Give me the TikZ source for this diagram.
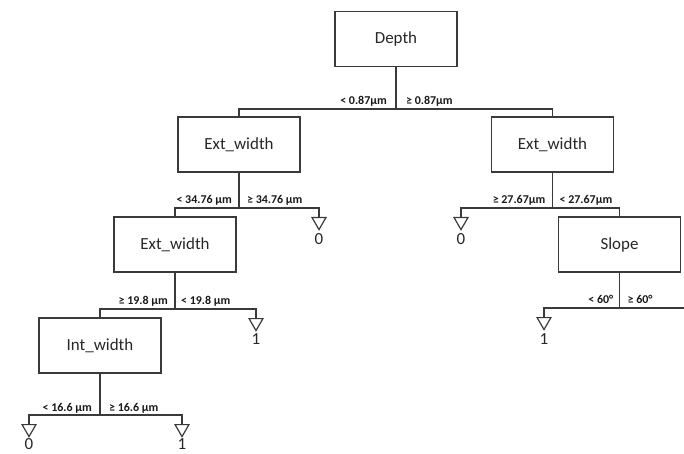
\documentclass[tikz,border=0pt]{standalone}
\usepackage{fontspec}
\setmainfont{Carlito}
\usetikzlibrary{shapes.geometric}
\definecolor{ln}{HTML}{3A3A3A}
\tikzset{
  box/.style={draw=ln, line width=1.2bp, minimum width=122bp, minimum height=55bp, inner sep=0pt, font=\fontsize{17}{20}\selectfont, text=black!85},
  leaf/.style={draw=ln, line width=1.2bp, regular polygon, regular polygon sides=3, shape border rotate=180, minimum size=16bp, inner sep=0pt, anchor=north},
  leaflbl/.style={font=\fontsize{17}{20}\selectfont, text=black!85, inner sep=0pt},
  cond/.style={font=\bfseries\fontsize{12}{14}\selectfont, text=black!90, inner sep=0pt},
  conn/.style={draw=ln, line width=1.2bp}
}
\begin{document}
\begin{tikzpicture}[x=1bp, y=-1bp]
\useasboundingbox (0,0) rectangle (684,454);
% decision nodes
\node[box] (depth) at (396,39) {Depth};
\node[box] (extL) at (239,144.5) {Ext\_width};
\node[box] (extR) at (552.5,144.5) {Ext\_width};
\node[box] (ext2) at (175,244.5) {Ext\_width};
\node[box] (slope) at (619.5,244.5) {Slope};
\node[box] (intw) at (100,345.5) {Int\_width};
% junctions
\coordinate (j0) at (396,109);
\coordinate (j1) at (239,208);
\coordinate (j2) at (552.5,208);
\coordinate (j3) at (175,309);
\coordinate (j4) at (619.5,308);
\coordinate (j5) at (100,415);
\coordinate (edge) at (684,308);
% leaves
\node[leaf] (l1) at (319,217) {};
\node[leaflbl] (t1) at (319,239) {0};
\node[leaf] (l2) at (461,217) {};
\node[leaflbl] (t2) at (461,239) {0};
\node[leaf] (l3) at (256,318) {};
\node[leaflbl] (t3) at (256,339) {1};
\node[leaf] (l4) at (544,317) {};
\node[leaflbl] (t4) at (544,339) {1};
\node[leaf] (l5) at (29,424) {};
\node[leaflbl] (t5) at (29,444) {0};
\node[leaf] (l6) at (182,424) {};
\node[leaflbl] (t6) at (182,444) {1};
% connectors
\draw[conn] (depth.south) -- (j0);
\draw[conn] (extL.north) |- (j0) -| (extR.north);
\draw[conn] (extL.south) -- (j1);
\draw[conn] (ext2.north) |- (j1) -| (l1.north);
\draw[conn] (extR.south) -- (j2);
\draw[conn] (l2.north) |- (j2) -| (slope.north);
\draw[conn] (ext2.south) -- (j3);
\draw[conn] (intw.north) |- (j3) -| (l3.north);
\draw[conn] (slope.south) -- (j4);
\draw[conn] (l4.north) |- (j4) -- (edge);
\draw[conn] (intw.south) -- (j5);
\draw[conn] (l5.north) |- (j5) -| (l6.north);
% condition labels
\node[cond, anchor=base east] (c0a) at ([xshift=-9bp,yshift=4bp]j0) {< 0.87µm};
\node[cond, anchor=base west] (c0b) at ([xshift=10bp,yshift=4bp]j0) {≥ 0.87µm};
\node[cond, anchor=base east] (c1a) at ([xshift=-7bp,yshift=4bp]j1) {< 34.76 µm};
\node[cond, anchor=base west] (c1b) at ([xshift=8bp,yshift=4bp]j1) {≥ 34.76 µm};
\node[cond, anchor=base east] (c2a) at ([xshift=-7bp,yshift=4bp]j2) {≥ 27.67µm};
\node[cond, anchor=base west] (c2b) at ([xshift=7bp,yshift=4bp]j2) {< 27.67µm};
\node[cond, anchor=base east] (c3a) at ([xshift=-7bp,yshift=4bp]j3) {≥ 19.8 µm};
\node[cond, anchor=base west] (c3b) at ([xshift=6bp,yshift=4bp]j3) {< 19.8 µm};
\node[cond, anchor=base east] (c4a) at ([xshift=-6bp,yshift=4bp]j4) {< 60°};
\node[cond, anchor=base west] (c4b) at ([xshift=8bp,yshift=4bp]j4) {≥ 60°};
\node[cond, anchor=base east] (c5a) at ([xshift=-8bp,yshift=4bp]j5) {< 16.6 µm};
\node[cond, anchor=base west] (c5b) at ([xshift=9bp,yshift=4bp]j5) {≥ 16.6 µm};
\end{tikzpicture}
\end{document}
